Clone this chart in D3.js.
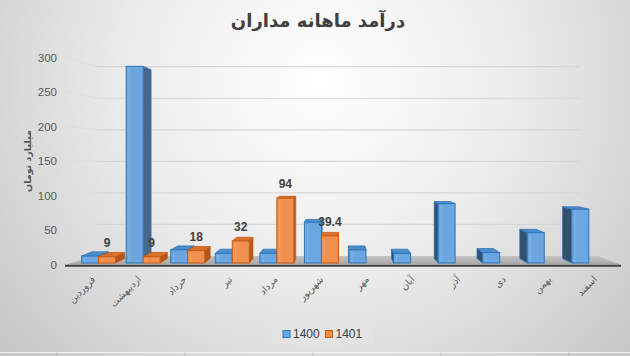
<!DOCTYPE html>
<html><head><meta charset="utf-8">
<script src="https://cdnjs.cloudflare.com/ajax/libs/d3/7.8.5/d3.min.js"></script>
<style>html,body{margin:0;padding:0;background:#fff;}svg{display:block;}</style>
</head><body>
<script>
const months = ["فروردین","اردیبهشت","خرداد","تیر","مرداد","شهریور","مهر","آبان","آذر","دی","بهمن","اسفند"];
const seriesNames = ["1400","1401"];
const values1400 = [10, 285, 19, 14, 14, 59, 19, 14, 86, 15, 44, 78];
const values1401 = [9, 9, 18, 32, 94, 39.4, null, null, null, null, null, null];
const yTicks = [0, 50, 100, 150, 200, 250, 300];
const title = "درآمد ماهانه مداران";
const yTitle = "میلیارد تومان";

const W = 630, H = 356;
const svg = d3.select("body").append("svg").attr("width", W).attr("height", H);
const defs = svg.append("defs");
const bg = defs.append("radialGradient").attr("id","bg").attr("gradientUnits","userSpaceOnUse")
  .attr("cx",320).attr("cy",80).attr("r",430);
bg.append("stop").attr("offset","0").attr("stop-color","#ffffff");
bg.append("stop").attr("offset","0.45").attr("stop-color","#ececec");
bg.append("stop").attr("offset","1").attr("stop-color","#c4c4c4");
svg.append("rect").attr("width",W).attr("height",H).attr("fill","url(#bg)");

const fl = defs.append("linearGradient").attr("id","floor").attr("x1",0).attr("y1",0).attr("x2",0).attr("y2",1);
fl.append("stop").attr("offset","0").attr("stop-color","#c4c4c4");
fl.append("stop").attr("offset","1").attr("stop-color","#a6a6a6");

// scales
const y = d3.scaleLinear().domain([0,300]).range([263,56]);
const yBack = d3.scaleLinear().domain([0,300]).range([256,66.7]);
const x0 = d3.scaleBand().domain(months).range([76.3, 611.1]).paddingInner(0.237).paddingOuter(0.1185);
const x1 = d3.scaleBand().domain(seriesNames).range([0, x0.bandwidth()]);
const xLab = d3.scaleBand().domain(months).range([72.2, 619.4]);

// back wall & left wall gridlines
const wallL = 97, wallR = 580, frontL = 63;
yTicks.slice(1).forEach(v => {
  svg.append("line").attr("x1",wallL).attr("x2",wallR).attr("y1",yBack(v)).attr("y2",yBack(v))
    .attr("stroke","#d6d6d6").attr("stroke-width",1.2);
  svg.append("line").attr("x1",frontL).attr("y1",y(v)+1).attr("x2",wallL).attr("y2",yBack(v))
    .attr("stroke","#dedede").attr("stroke-width",1);
});

// floor
svg.append("polygon").attr("points",[[66,264.5],[620,264.5],[598,256],[wallL,256]].map(p=>p.join(",")).join(" "))
  .attr("fill","url(#floor)");
svg.append("line").attr("x1",65).attr("x2",621).attr("y1",265.8).attr("y2",265.8).attr("stroke","#3f3f3f").attr("stroke-width",2);

// bars with simple perspective
const vx = 341, vy = 150, k = 0.04;
const proj = (px,py) => [px + k*(vx-px), py + k*(vy-py)];
const colors = {
  "1400": {front:"#6ba6e0", stroke:"#2f76b8", side:"#44688f", sideL:"#34506f", top:"#4e8dcc"},
  "1401": {front:"#f2914f", stroke:"#c65b12", side:"#b0581d", sideL:"#9a4c18", top:"#d9712c"}
};
const bars = [];
months.forEach((m,i) => {
  [["1400", values1400[i]], ["1401", values1401[i]]].forEach(([s,v]) => {
    if (v == null) return;
    const xa = x0(m) + x1(s), xb = xa + x1.bandwidth();
    bars.push({m, s, v, xa, xb, yt: y(v), yb: y(0)});
  });
});
bars.sort((a,b) => Math.abs((b.xa+b.xb)/2 - vx) - Math.abs((a.xa+a.xb)/2 - vx));
const gBars = svg.append("g");
const pts = arr => arr.map(p=>p.join(",")).join(" ");
bars.forEach(b => {
  const c = colors[b.s];
  const g = gBars.append("g");
  if (b.xb < vx) {
    g.append("polygon").attr("points", pts([[b.xb,b.yt],[b.xb,b.yb],proj(b.xb,b.yb),proj(b.xb,b.yt)]))
      .attr("fill", c.side).attr("stroke", c.stroke).attr("stroke-width",0.8);
  }
  if (b.xa > vx) {
    g.append("polygon").attr("points", pts([[b.xa,b.yt],[b.xa,b.yb],proj(b.xa,b.yb),proj(b.xa,b.yt)]))
      .attr("fill", c.sideL).attr("stroke", c.stroke).attr("stroke-width",0.8);
  }
  if (b.yt > vy) {
    g.append("polygon").attr("points", pts([[b.xa,b.yt],[b.xb,b.yt],proj(b.xb,b.yt),proj(b.xa,b.yt)]))
      .attr("fill", c.top).attr("stroke", c.stroke).attr("stroke-width",0.8);
  }
  g.append("rect").attr("x",b.xa).attr("y",b.yt).attr("width",b.xb-b.xa).attr("height",b.yb-b.yt)
    .attr("fill",c.front).attr("stroke",c.stroke).attr("stroke-width",1);
  g.append("line").attr("x1",b.xa+3).attr("x2",b.xa+3).attr("y1",b.yt+2).attr("y2",b.yb-1)
    .attr("stroke","#ffffff").attr("stroke-opacity",0.18).attr("stroke-width",1);
});

// data labels (1401)
months.forEach((m,i) => {
  const v = values1401[i];
  if (v == null) return;
  svg.append("text").attr("x", x0(m)+x1("1401")+x1.bandwidth()/2).attr("y", y(v)-13)
    .attr("text-anchor","middle").attr("dominant-baseline","middle")
    .attr("font-family","Liberation Sans, Arial, sans-serif").attr("font-weight","bold").attr("font-size",12)
    .attr("fill","#404040").text(v);
});

// y tick labels
svg.append("g").selectAll("text").data(yTicks).join("text")
  .attr("x",57).attr("y",d=>y(d)+2.7).attr("text-anchor","end").attr("dominant-baseline","middle")
  .attr("font-family","Liberation Sans, Arial, sans-serif").attr("font-size",11.5).attr("fill","#595959")
  .text(d=>d);

// x labels
svg.append("g").selectAll("text").data(months).join("text")
  .attr("transform", d => `translate(${xLab(d)+xLab.bandwidth()/2+1},280) rotate(-45)`)
  .attr("text-anchor","end")
  .attr("font-family","DejaVu Sans, sans-serif").attr("font-size",9.5).attr("fill","#595959")
  .text(d=>d);

// titles
svg.append("text").attr("x",318).attr("y",22).attr("text-anchor","middle").attr("dominant-baseline","middle")
  .attr("font-family","DejaVu Sans, sans-serif").attr("font-weight","bold").attr("font-size",18)
  .attr("fill","#404040").text(title);
svg.append("text").attr("transform","translate(28,161) rotate(-90)").attr("text-anchor","middle").attr("dominant-baseline","middle")
  .attr("font-family","DejaVu Sans, sans-serif").attr("font-weight","bold").attr("font-size",9.5)
  .attr("fill","#595959").text(yTitle);

// legend
const lg = svg.append("g");
lg.append("rect").attr("x",273).attr("y",322).attr("width",100).attr("height",23).attr("fill","#e4e4e4").attr("fill-opacity",0.7);
const legX = [283, 325.5];
seriesNames.forEach((s,i) => {
  lg.append("rect").attr("x",legX[i]).attr("y",330.5).attr("width",7).attr("height",7)
    .attr("fill",colors[s].front).attr("stroke",colors[s].stroke).attr("stroke-width",1);
  lg.append("text").attr("x",legX[i]+10).attr("y",334.5).attr("dominant-baseline","middle")
    .attr("font-family","Liberation Sans, Arial, sans-serif").attr("font-size",12).attr("fill","#404040").text(s);
});

// bottom border line with small ticks
svg.append("line").attr("x1",0).attr("x2",W).attr("y1",352.5).attr("y2",352.5).attr("stroke","#f4f4f4").attr("stroke-width",1);
[57,185,313,441,569].forEach(t => svg.append("line").attr("x1",t).attr("x2",t).attr("y1",352).attr("y2",356).attr("stroke","#b4b4b4").attr("stroke-width",0.6));
</script>
</body></html>
